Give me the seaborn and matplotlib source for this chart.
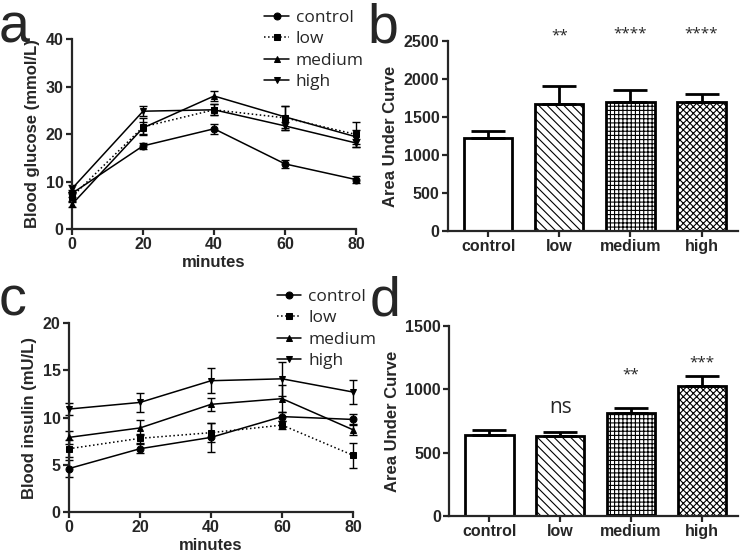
import numpy as np
import matplotlib
matplotlib.use("Agg")
import matplotlib.pyplot as plt
import seaborn as sns

# ---------------- data ----------------
minutes = [0, 20, 40, 60, 80]
groups = ["control", "low", "medium", "high"]

# glucose (mmol/L), mean and SEM
glu_control = [7.5, 17.5, 21.1, 13.7, 10.4]
glu_low = [6.8, 21.5, 25.1, 23.4, 19.9]
glu_medium = [5.2, 21.3, 28.0, 23.6, 19.4]
glu_high = [8.5, 24.8, 25.1, 21.7, 18.1]
glu_control_err = [0.7, 0.6, 1.0, 0.8, 0.7]
glu_low_err = [1.0, 1.8, 1.2, 2.5, 2.7]
glu_medium_err = [0.5, 1.2, 1.0, 2.4, 1.5]
glu_high_err = [0.8, 1.0, 1.2, 0.9, 0.8]

# insulin (mU/L), mean and SEM
ins_control = [4.6, 6.7, 7.9, 10.1, 9.8]
ins_low = [6.7, 7.8, 8.4, 9.2, 6.0]
ins_medium = [7.9, 8.9, 11.4, 12.0, 8.7]
ins_high = [10.9, 11.6, 13.9, 14.1, 12.7]
ins_control_err = [0.9, 0.5, 1.5, 0.5, 0.6]
ins_low_err = [0.9, 0.5, 1.0, 0.4, 1.3]
ins_medium_err = [0.7, 0.8, 0.7, 1.4, 0.6]
ins_high_err = [0.6, 1.0, 1.3, 1.8, 1.3]

# area under curve
auc_glu = [1230, 1670, 1700, 1695]
auc_glu_err = [85, 240, 150, 110]
auc_glu_sig = ["", "**", "****", "****"]
auc_ins = [640, 635, 815, 1025]
auc_ins_err = [35, 30, 35, 80]
auc_ins_sig = ["", "ns", "**", "***"]

# ---------------- style ----------------
sns.set_style("ticks")
plt.rcParams["font.family"] = ["Liberation Sans", "DejaVu Sans"]
plt.rcParams["axes.linewidth"] = 1.6
plt.rcParams["hatch.linewidth"] = 0.8

markers = ["o", "s", "^", "v"]
styles = ["-", ":", "-", "-"]
hatches = ["", "\\\\\\\\", "++++", "xxxxx"]

fig = plt.figure(figsize=(7.4, 5.54), dpi=100)
ax_a = fig.add_axes([0.0973, 0.5866, 0.384, 0.343])
ax_b = fig.add_axes([0.605, 0.583, 0.392, 0.343])
ax_c = fig.add_axes([0.0932, 0.0758, 0.384, 0.341])
ax_d = fig.add_axes([0.607, 0.0686, 0.390, 0.343])


def line_panel(ax, series, errs, ylim, yticks, ylabel, legend_anchor):
    for i, g in enumerate(groups):
        sns.lineplot(x=minutes, y=series[i], ax=ax, color="black", marker=markers[i],
                     markersize=5, linestyle=styles[i], linewidth=1.1, label=g,
                     markeredgecolor="black", clip_on=False, zorder=3)
        ax.errorbar(minutes, series[i], yerr=errs[i], fmt="none", ecolor="black",
                    elinewidth=1, capsize=3, capthick=1, clip_on=False)
    ax.set_xlim(0, 80)
    ax.set_ylim(*ylim)
    ax.set_xticks(minutes)
    ax.set_yticks(yticks)
    ax.set_xlabel("minutes", fontsize=12, fontweight="bold", labelpad=2)
    ax.set_ylabel(ylabel, fontsize=12, fontweight="bold", labelpad=4)
    ax.tick_params(labelsize=11.5, width=1.6, length=4, pad=2)
    for lab in ax.get_xticklabels() + ax.get_yticklabels():
        lab.set_fontweight("bold")
    sns.despine(ax=ax)
    ax.legend(loc="upper left", bbox_to_anchor=legend_anchor,
              bbox_transform=fig.transFigure, frameon=False,
              prop={"family": "Open Sans", "size": 12.5},
              handlelength=1.4, handletextpad=0.4, labelspacing=0.3,
              borderaxespad=0)


def bar_panel(ax, vals, errs, sig, ylim, yticks, sig_y, sig_sizes):
    sns.barplot(x=groups, y=vals, ax=ax, color="white", edgecolor="black",
                linewidth=2, width=0.68, saturation=1)
    for patch, h in zip(ax.patches, hatches):
        patch.set_hatch(h)
        patch.set_facecolor("white")
    ax.errorbar(range(len(groups)), vals, yerr=[np.zeros(len(vals)), errs],
                fmt="none", ecolor="black", elinewidth=2, capsize=12, capthick=2,
                zorder=1)
    for i, s in enumerate(sig):
        if s:
            ax.text(i, sig_y[i], s, ha="center", va="center",
                    fontsize=sig_sizes[i], family="Open Sans")
    ax.set_xlim(-0.57, 3.51)
    ax.set_ylim(*ylim)
    ax.set_yticks(yticks)
    ax.set_ylabel("Area Under Curve", fontsize=12, fontweight="bold", labelpad=4)
    ax.tick_params(labelsize=11.5, width=1.6, length=4, pad=2)
    for lab in ax.get_xticklabels() + ax.get_yticklabels():
        lab.set_fontweight("bold")
    sns.despine(ax=ax)


line_panel(ax_a, [glu_control, glu_low, glu_medium, glu_high],
           [glu_control_err, glu_low_err, glu_medium_err, glu_high_err],
           (0, 40), [0, 10, 20, 30, 40], "Blood glucose (mmol/L)", (0.348, 0.995))
line_panel(ax_c, [ins_control, ins_low, ins_medium, ins_high],
           [ins_control_err, ins_low_err, ins_medium_err, ins_high_err],
           (0, 20), [0, 5, 10, 15, 20], "Blood insulin (mU/L)", (0.365, 0.491))

bar_panel(ax_b, auc_glu, auc_glu_err, auc_glu_sig, (0, 2500),
          [0, 500, 1000, 1500, 2000, 2500], [None, 2560, 2590, 2590], [None, 11, 11, 11])
bar_panel(ax_d, auc_ins, auc_ins_err, auc_ins_sig, (0, 1500),
          [0, 500, 1000, 1500], [None, 860, 1110, 1210], [None, 15, 11, 11])

# panel letters
for lbl, x, y in [("a", -0.002, 0.924), ("b", 0.497, 0.924),
                  ("c", -0.002, 0.43), ("d", 0.499, 0.43)]:
    fig.text(x, y, lbl, fontsize=40, ha="left", va="baseline")

fig.savefig("out.png", dpi=100)
